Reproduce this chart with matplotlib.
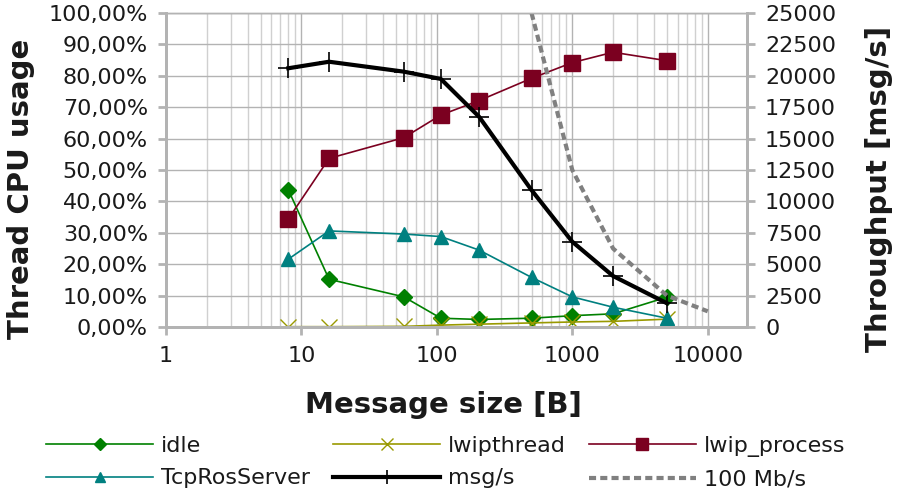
import matplotlib.pyplot as plt
from matplotlib.ticker import FuncFormatter, FixedLocator, LogLocator, NullFormatter

# message sizes [B]
size = [8, 16, 57, 107, 205, 500, 1000, 2000, 5000]

# thread CPU usage [%]
idle = [43.7, 15.2, 9.6, 2.8, 2.4, 2.8, 3.6, 4.2, 9.5]
lwipthread = [0.1, 0.1, 0.2, 0.6, 0.9, 1.3, 1.6, 1.8, 2.5]
lwip_process = [34.4, 53.7, 60.3, 67.5, 72.1, 79.2, 84.2, 87.5, 84.8]
tcprosserver = [21.6, 30.6, 29.6, 28.8, 24.5, 15.8, 9.6, 6.3, 2.8]

# throughput [msg/s]
msgs = [20600, 21120, 20330, 19750, 16740, 10900, 6790, 4060, 1890]

# 100 Mb/s limit
limit_size = [500, 1000, 2000, 5000, 10000]
limit_msgs = [25000, 12500, 6250, 2500, 1250]

grey = "#b3b3b3"
txt = "#1a1a1a"

fig = plt.figure(figsize=(9, 4.95), dpi=100)
ax = fig.add_axes([166 / 900, 1 - 327 / 495, 581 / 900, 314 / 495])
ax2 = ax.twinx()

l1, = ax.plot(size, idle, color="#008000", lw=1.2, marker="D", ms=8, label="idle")
l2, = ax.plot(size, lwipthread, color="#999900", lw=1.2, marker="x", ms=12, mew=1, label="lwipthread")
l3, = ax.plot(size, lwip_process, color="#7b0020", lw=1.2, marker="s", ms=12, label="lwip_process")
l4, = ax.plot(size, tcprosserver, color="#008080", lw=1.2, marker="^", ms=10, label="TcpRosServer")

l5, = ax2.plot(size, msgs, color="black", lw=3, marker="+", ms=14, mew=1.2, label="msg/s")
l6, = ax2.plot(limit_size, limit_msgs, color="#808080", lw=3, ls=(0, (1.7, 1.0)), label="100 Mb/s")

ax.set_xscale("log")
ax.set_xlim(1, 19500)
ax.set_ylim(0, 100)
ax2.set_ylim(0, 25000)

ax.xaxis.set_major_locator(FixedLocator([1, 10, 100, 1000, 10000]))
ax.xaxis.set_major_formatter(FuncFormatter(lambda v, p: "%d" % v))
ax.xaxis.set_minor_locator(LogLocator(base=10, subs=range(2, 10)))
ax.xaxis.set_minor_formatter(NullFormatter())
ax.set_yticks(range(0, 101, 10))
ax.yaxis.set_major_formatter(FuncFormatter(lambda v, p: ("%.2f%%" % v).replace(".", ",")))
ax2.set_yticks(range(0, 25001, 2500))

ax.grid(True, which="major", color=grey, lw=1)
ax.grid(True, which="minor", axis="x", color="#d0d0d0", lw=1)
ax.set_axisbelow(True)

for a in (ax, ax2):
    for s in a.spines.values():
        s.set_color(grey)
        s.set_linewidth(2)
    a.spines["top"].set_linewidth(1)
    a.tick_params(which="major", length=6, width=2, color=grey, labelsize=16, labelcolor=txt, pad=7)
    a.tick_params(which="minor", length=0)
ax.tick_params(axis="x", pad=8)

ax.set_xlabel("Message size [B]", fontsize=21, fontweight="bold", color=txt)
ax.xaxis.set_label_coords(0.477, -0.205)
ax.set_ylabel("Thread CPU usage", fontsize=21, fontweight="bold", color=txt)
ax.yaxis.set_label_coords(-0.225, 0.44)
ax2.set_ylabel("Throughput [msg/s]", fontsize=21, fontweight="bold", color=txt)
ax2.yaxis.set_label_coords(1.203, 0.44)

handles = [l1, l4, l2, l5, l3, l6]
fig.legend(handles=handles, ncol=3, loc="upper left", bbox_to_anchor=(0.039, 1 - 425 / 495),
           frameon=False, fontsize=16, handlelength=4.8, columnspacing=1.05, markerscale=0.75,
           handletextpad=0.36, labelspacing=0.55, borderpad=0)
for t in fig.legends[0].get_texts():
    t.set_color(txt)

fig.savefig("out.png", dpi=100)
